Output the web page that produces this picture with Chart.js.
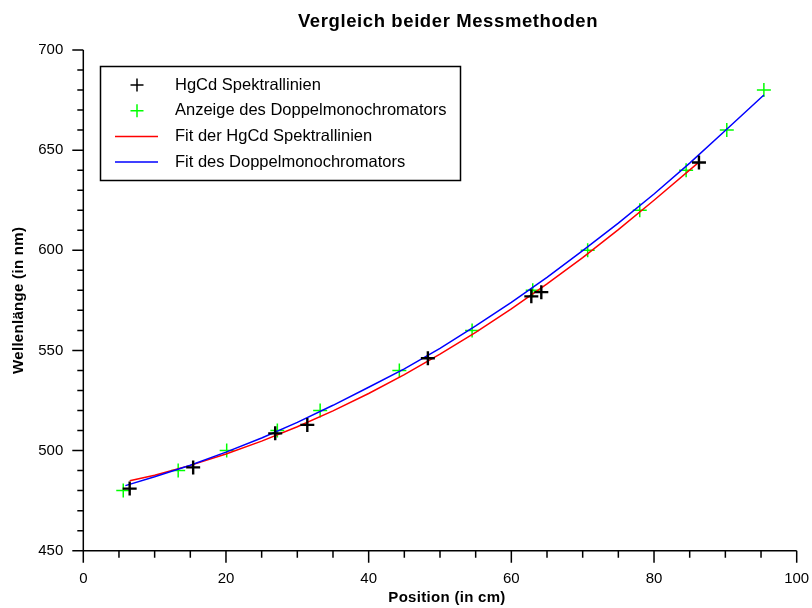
<!DOCTYPE html>
<html>
<head>
<meta charset="utf-8">
<script src="https://cdn.jsdelivr.net/npm/chart.js@4/dist/chart.umd.min.js"></script>
<style>
  html, body { margin: 0; padding: 0; background: #fff; }
</style>
</head>
<body>
<canvas id="chart" width="812" height="608"></canvas>
<script>
// HgCd spectral lines: position on the rail (cm) and wavelength (nm)
const hgcdPos = [6.5, 15.4, 26.9, 31.4, 48.3, 62.8, 64.2, 86.3];
const hgcdNm  = [481.0, 491.6, 508.6, 512.8, 546.1, 577.0, 579.1, 643.8];

// readings of the double monochromator
const monoPos = [5.6, 13.3, 20.1, 27.2, 33.2, 44.3, 54.5, 63.0, 70.7, 78.0, 84.5, 90.2, 95.4];
const monoNm  = [480, 490, 500, 510, 520, 540, 560, 580, 600, 620, 640, 660, 680];

// fitted curves
const fitHgcdPos = [6.5, 10, 15, 20, 25, 30, 35, 40, 45, 50, 55, 60, 65, 70, 75, 80, 86.3];
const fitHgcdNm  = [484.9, 487.7, 492.6, 498.3, 504.7, 511.9, 519.8, 528.5, 537.9, 548.1, 559.0, 570.7, 583.2, 596.3, 610.3, 625.0, 644.0];
const fitMonoPos = [5.9, 10, 15, 20, 25, 30, 35, 40, 45, 50, 55, 60, 65, 70, 75, 80, 85, 90, 95.4];
const fitMonoNm  = [482.5, 486.9, 492.7, 499.2, 506.3, 514.1, 522.6, 531.6, 540.8, 551.0, 562.2, 574.0, 586.5, 599.8, 613.6, 628.1, 643.5, 659.8, 677.5];

const xTicks = [0, 20, 40, 60, 80, 100];
const yTicks = [450, 500, 550, 600, 650, 700];

const pts = (xs, ys) => xs.map((x, i) => ({ x: x, y: ys[i] }));

const FONT = '"Liberation Sans", Arial, Helvetica, sans-serif';

// axes with outward ticks, titles and a boxed legend
const frame = {
  id: 'frame',
  afterDraw(chart) {
    const ctx = chart.ctx;
    const xs = chart.scales.x, ys = chart.scales.y;
    const area = chart.chartArea;
    ctx.save();
    ctx.strokeStyle = '#000';
    ctx.lineWidth = 1.5;
    ctx.beginPath();
    ctx.moveTo(area.left, area.top);
    ctx.lineTo(area.left, area.bottom);
    ctx.lineTo(area.right, area.bottom);
    for (let v = 0; v <= 100; v += 5) {
      const px = xs.getPixelForValue(v);
      ctx.moveTo(px, area.bottom);
      ctx.lineTo(px, area.bottom + (v % 20 === 0 ? 12 : 7));
    }
    for (let v = 450; v <= 700; v += 10) {
      const py = ys.getPixelForValue(v);
      ctx.moveTo(area.left, py);
      ctx.lineTo(area.left - (v % 50 === 0 ? 11 : 6), py);
    }
    ctx.stroke();

    ctx.fillStyle = '#000';
    ctx.textAlign = 'center';
    ctx.textBaseline = 'alphabetic';
    ctx.font = 'bold 18.5px ' + FONT;
    ctx.letterSpacing = '0.6px';
    ctx.fillText('Vergleich beider Messmethoden', 448, 27);
    ctx.font = 'bold 15px ' + FONT;
    ctx.letterSpacing = '0.3px';
    ctx.textBaseline = 'middle';
    ctx.fillText('Position (in cm)', 447, 598);
    ctx.save();
    ctx.translate(19, (area.top + area.bottom) / 2);
    ctx.rotate(-Math.PI / 2);
    ctx.fillText('Wellenlänge (in nm)', 0, 0);
    ctx.restore();
    ctx.letterSpacing = '0px';

    // legend
    const box = { left: 100.5, top: 66.5, right: 460.5, bottom: 180.5 };
    ctx.lineWidth = 1.5;
    ctx.strokeRect(box.left, box.top, box.right - box.left, box.bottom - box.top);
    ctx.font = '16.5px ' + FONT;
    ctx.textAlign = 'left';
    chart.data.datasets.forEach((ds, i) => {
      const cy = 85 + i * 25.7;
      ctx.strokeStyle = ds.borderColor;
      ctx.lineWidth = 1.5;
      ctx.beginPath();
      if (ds.showLine) {
        ctx.moveTo(115, cy);
        ctx.lineTo(158, cy);
      } else {
        ctx.moveTo(137 - 6.5, cy);
        ctx.lineTo(137 + 6.5, cy);
        ctx.moveTo(137, cy - 6.5);
        ctx.lineTo(137, cy + 6.5);
      }
      ctx.stroke();
      ctx.fillStyle = '#000';
      ctx.fillText(ds.label, 175, cy);
    });
    ctx.restore();
  }
};

new Chart(document.getElementById('chart'), {
  type: 'scatter',
  data: {
    datasets: [{
      label: 'HgCd Spektrallinien',
      data: pts(hgcdPos, hgcdNm),
      borderColor: '#000',
      pointStyle: 'cross',
      pointRadius: 7,
      pointBorderWidth: 2.4,
      order: 0
    }, {
      label: 'Anzeige des Doppelmonochromators',
      data: pts(monoPos, monoNm),
      borderColor: '#00ff00',
      pointStyle: 'cross',
      pointRadius: 7,
      pointBorderWidth: 1.5,
      order: 3
    }, {
      label: 'Fit der HgCd Spektrallinien',
      data: pts(fitHgcdPos, fitHgcdNm),
      borderColor: '#ff0000',
      borderWidth: 1.5,
      showLine: true,
      pointRadius: 0,
      order: 2
    }, {
      label: 'Fit des Doppelmonochromators',
      data: pts(fitMonoPos, fitMonoNm),
      borderColor: '#0000ff',
      borderWidth: 1.5,
      showLine: true,
      pointRadius: 0,
      order: 1
    }]
  },
  options: {
    responsive: false,
    animation: false,
    devicePixelRatio: 1,
    layout: { padding: { top: 50, right: 15.3, left: 0, bottom: 0 } },
    plugins: {
      legend: { display: false },
      title: { display: false },
      tooltip: { enabled: false }
    },
    scales: {
      x: {
        type: 'linear',
        min: 0,
        max: 100,
        afterBuildTicks: s => { s.ticks = xTicks.map(v => ({ value: v })); },
        afterFit: s => { s.height = 57.3; s.paddingLeft = 0; s.paddingRight = 0; },
        grid: { display: false, drawTicks: false },
        border: { display: false },
        ticks: { padding: 19, maxRotation: 0, color: '#000', font: { family: FONT, size: 15 } }
      },
      y: {
        min: 450,
        max: 700,
        afterBuildTicks: s => { s.ticks = yTicks.map(v => ({ value: v })); },
        afterFit: s => { s.width = 83.3; s.paddingTop = 0; s.paddingBottom = 0; },
        grid: { display: false, drawTicks: false },
        border: { display: false },
        ticks: { padding: 20, color: '#000', font: { family: FONT, size: 15 } }
      }
    }
  },
  plugins: [frame]
});
</script>
</body>
</html>
